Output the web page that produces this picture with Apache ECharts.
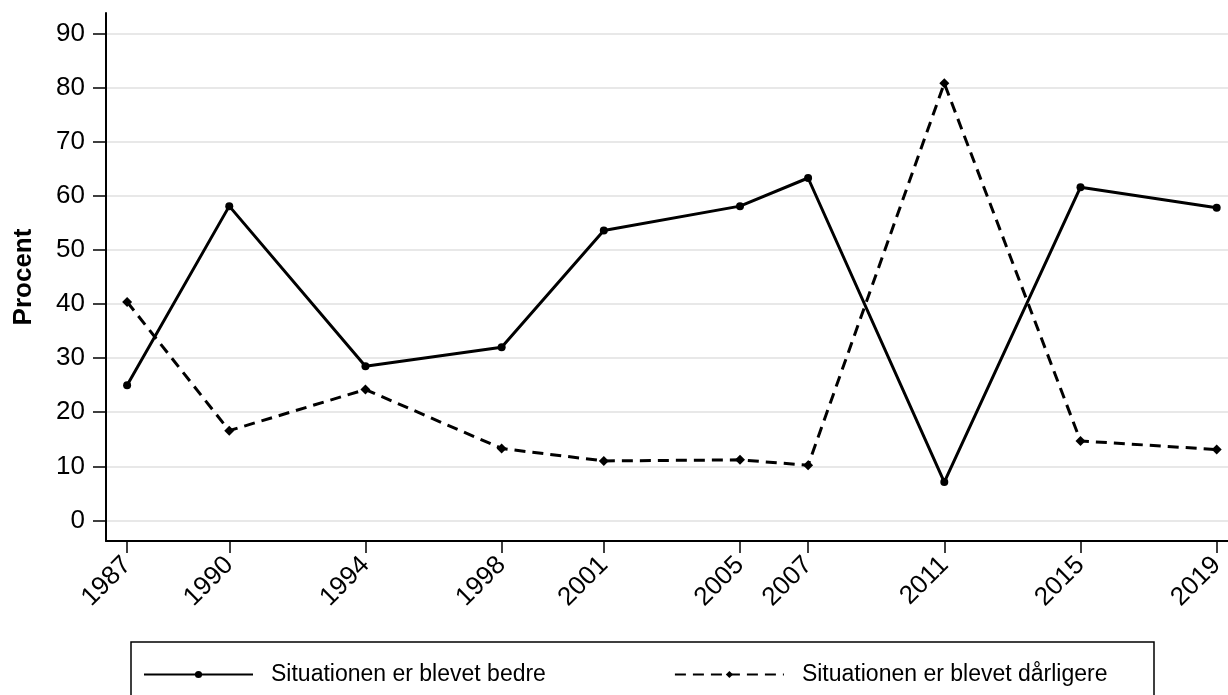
<!DOCTYPE html>
<html>
<head>
<meta charset="utf-8">
<script src="https://cdn.jsdelivr.net/npm/echarts@6/dist/echarts.min.js"></script>
<style>
  html, body { margin: 0; padding: 0; background: #fff; }
  #chart { width: 1228px; height: 695px; }
</style>
</head>
<body>
<div id="chart"></div>
<script>
// Survey years (uneven spacing, so the x axis is numeric)
const years = [1987, 1990, 1994, 1998, 2001, 2005, 2007, 2011, 2015, 2019];
// Share answering "better" / "worse", in percent
const bedre = [25.0, 58.1, 28.5, 32.0, 53.6, 58.1, 63.3, 7.1, 61.6, 57.8];
const daarligere = [40.4, 16.6, 24.2, 13.3, 11.0, 11.2, 10.2, 80.8, 14.7, 13.1];
// Y axis tick labels
const yTicks = [0, 10, 20, 30, 40, 50, 60, 70, 80, 90];

const seriesNames = ['Situationen er blevet bedre', 'Situationen er blevet dårligere'];
const FONT = '"Liberation Sans", Arial, Helvetica, sans-serif';

const chart = echarts.init(document.getElementById('chart'), null, { renderer: 'canvas' });

chart.setOption({
  backgroundColor: '#fff',
  animation: false,
  grid: { left: 106, right: 0, top: 13, bottom: 154 },
  xAxis: {
    type: 'value',
    min: 1986.38,
    max: 2019.33,
    axisLine: { show: true, onZero: false, lineStyle: { color: '#000', width: 2 } },
    axisTick: { show: true, length: 12, customValues: years, lineStyle: { color: '#000', width: 1.5 } },
    axisLabel: {
      customValues: years,
      formatter: v => String(v),
      rotate: 45,
      margin: 20,
      fontSize: 26,
      color: '#000',
      fontFamily: FONT
    },
    splitLine: { show: false }
  },
  yAxis: {
    type: 'value',
    min: -3.8,
    max: 93.8,
    name: 'Procent',
    nameLocation: 'middle',
    nameGap: 69,
    nameTextStyle: { fontSize: 26, fontWeight: 'bold', color: '#000', fontFamily: FONT },
    axisLine: { show: true, onZero: false, lineStyle: { color: '#000', width: 2 } },
    axisTick: { show: true, length: 13, customValues: yTicks, lineStyle: { color: '#000', width: 1.5 } },
    axisLabel: { customValues: yTicks, margin: 21, fontSize: 26, color: '#000', fontFamily: FONT },
    splitLine: { show: true, lineStyle: { color: '#e0e0e0', width: 1.5 } }
  },
  legend: {
    left: 138,
    top: 658,
    itemWidth: 109,
    itemHeight: 9,
    itemGap: 128,
    data: seriesNames,
    textStyle: { fontSize: 23, color: '#000', fontFamily: FONT, padding: [0, 0, 0, 13] }
  },
  graphic: [{
    type: 'rect',
    shape: { x: 131, y: 642, width: 1023, height: 80 },
    style: { fill: 'none', stroke: '#000', lineWidth: 1.5 },
    silent: true,
    z: 0
  }],
  series: [
    {
      name: seriesNames[0],
      type: 'line',
      data: years.map((y, i) => [y, bedre[i]]),
      symbol: 'circle',
      symbolSize: 8,
      showSymbol: true,
      lineStyle: { color: '#000', width: 3, type: 'solid' },
      itemStyle: { color: '#000' }
    },
    {
      name: seriesNames[1],
      type: 'line',
      data: years.map((y, i) => [y, daarligere[i]]),
      symbol: 'diamond',
      symbolSize: 10,
      showSymbol: true,
      lineStyle: { color: '#000', width: 3, type: [11, 7] },
      itemStyle: { color: '#000' }
    }
  ]
});
</script>
</body>
</html>
